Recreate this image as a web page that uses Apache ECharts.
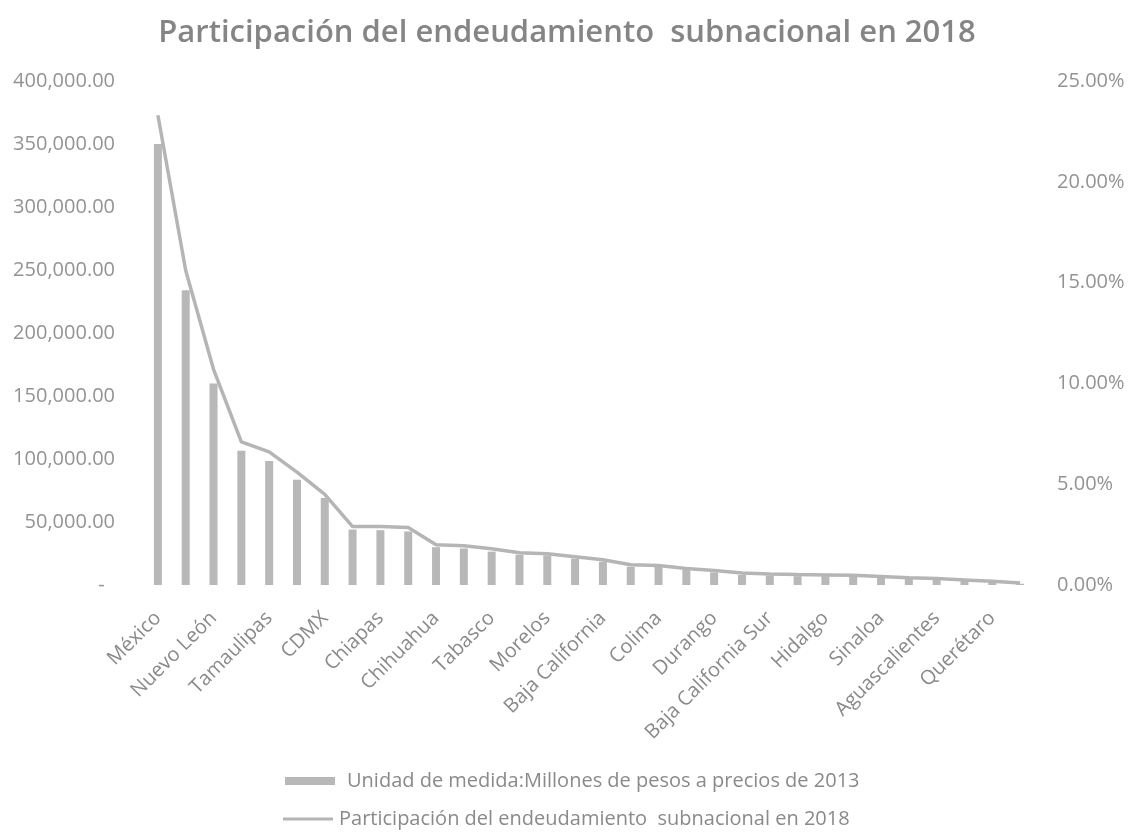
<!DOCTYPE html>
<html>
<head>
<meta charset="utf-8">
<script src="https://cdn.jsdelivr.net/npm/echarts@6/dist/echarts.min.js"></script>
<style>
html,body{margin:0;padding:0;background:#fff;}
#chart{width:1134px;height:832px;}
</style>
</head>
<body>
<div id="chart"></div>
<script>
const categories = ['México','Veracruz','Nuevo León','Coahuila','Tamaulipas','Jalisco','CDMX','Sonora','Chiapas','Michoacán','Chihuahua','Quintana Roo','Tabasco','Oaxaca','Morelos','Puebla','Baja California','Zacatecas','Colima','Nayarit','Durango','Guerrero','Baja California Sur','Guanajuato','Hidalgo','San Luis Potosí','Sinaloa','Yucatán','Aguascalientes','Campeche','Querétaro','Tlaxcala'];
const deuda = [350000, 234000, 160000, 106500, 98500, 83500, 69000, 44000, 43500, 42500, 30000, 29000, 26500, 24000, 23500, 21000, 18500, 14500, 14500, 12000, 10000, 8000, 7500, 7000, 7000, 6500, 6000, 5000, 4500, 3500, 2500, 1000];
const participacion = [23.3, 15.6, 10.7, 7.1, 6.6, 5.6, 4.5, 2.9, 2.9, 2.85, 2.0, 1.95, 1.8, 1.6, 1.55, 1.4, 1.25, 1.0, 0.97, 0.82, 0.72, 0.6, 0.55, 0.52, 0.5, 0.48, 0.42, 0.36, 0.32, 0.25, 0.18, 0.1];
const seriesNames = ['Unidad de medida:Millones de pesos a precios de 2013', 'Participación del endeudamiento  subnacional en 2018'];
const titleText = 'Participación del endeudamiento  subnacional en 2018';

const FONT = '"Open Sans", sans-serif';
const chart = echarts.init(document.getElementById('chart'));
chart.setOption({
  backgroundColor: '#ffffff',
  animation: false,
  title: {
    text: titleText, left: 'center', top: 13,
    textStyle: {fontFamily: FONT, fontSize: 31, fontWeight: 600, color: '#858585'}
  },
  legend: [
    {
      orient: 'horizontal', left: 280, top: 766, itemWidth: 50, itemHeight: 8, padding: 5,
      textStyle: {fontFamily: FONT, fontSize: 20, color: '#8a8a8a', padding: [0, 0, 0, 7]},
      data: [{name: seriesNames[0], icon: 'rect'}]
    },
    {
      orient: 'horizontal', left: 278, top: 804, itemWidth: 50, itemHeight: 3, padding: 5,
      textStyle: {fontFamily: FONT, fontSize: 20, color: '#8a8a8a', padding: [0, 0, 0, 1]},
      data: [{name: seriesNames[1], icon: 'rect'}]
    }
  ],
  grid: {left: 144, right: 100, top: 81, bottom: 247},
  xAxis: {
    type: 'category', data: categories,
    axisLine: {show: false}, axisTick: {show: false},
    axisLabel: {interval: 1, rotate: 45, fontFamily: FONT, fontSize: 20, color: '#8a8a8a', margin: 30}
  },
  yAxis: [
    {type: 'value', min: 0, max: 400000, interval: 50000,
     splitLine: {show: false}, axisLine: {show: false}, axisTick: {show: false},
     axisLabel: {fontFamily: FONT, fontSize: 20, color: '#939393', margin: 29,
       formatter: v => v === 0 ? '-  ' : v.toLocaleString('en-US', {minimumFractionDigits: 2, maximumFractionDigits: 2})}},
    {type: 'value', min: 0, max: 25, interval: 5, position: 'right',
     splitLine: {show: false}, axisLine: {show: false}, axisTick: {show: false},
     axisLabel: {fontFamily: FONT, fontSize: 20, color: '#939393', margin: 23,
       formatter: v => v.toFixed(2) + '%'}}
  ],
  series: [
    {name: seriesNames[0], type: 'bar', data: deuda, barWidth: 8, yAxisIndex: 0,
     itemStyle: {color: '#b8b8b8'}},
    {name: seriesNames[1], type: 'line', data: participacion, yAxisIndex: 1,
     symbol: 'none', lineStyle: {color: '#b5b5b5', width: 3.5}, itemStyle: {color: '#b5b5b5'}}
  ]
});
</script>
</body>
</html>
